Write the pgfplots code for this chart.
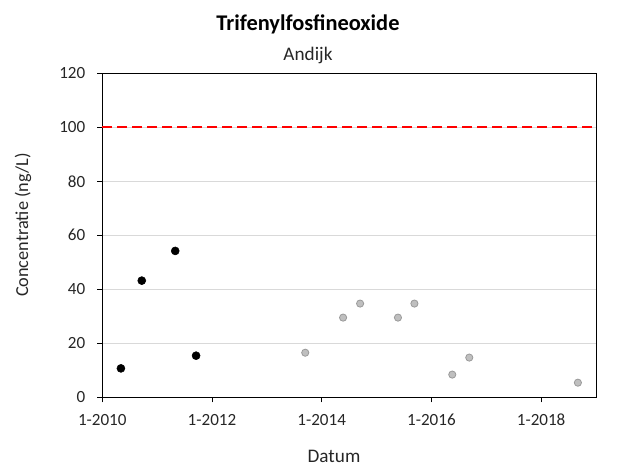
\documentclass[border=0pt]{standalone}
\usepackage{fontspec}
\setmainfont{Carlito}
\usepackage{pgfplots}
\pgfplotsset{compat=1.18}
\definecolor{gridgray}{HTML}{D9D9D9}
\definecolor{ptgray}{HTML}{BFBFBF}
\definecolor{ptedge}{HTML}{9A9A9A}
\begin{document}
\begin{tikzpicture}
\useasboundingbox (0,0) rectangle (475.5pt,354.75pt);
\begin{axis}[
  at={(76.7pt,56.8pt)}, anchor=south west,
  scale only axis, width=370.3pt, height=243pt,
  xmin=2010, xmax=2019, ymin=0, ymax=120,
  xtick={2010,2012,2014,2016,2018},
  xticklabels={1-2010,1-2012,1-2014,1-2016,1-2018},
  ytick={0,20,...,120},
  /pgf/number format/assume math mode=true,
  tick label style={font=\fontsize{12.8}{15}\selectfont, text=black!85},
  xticklabel style={yshift=-5.5pt},
  yticklabel style={xshift=-5.5pt},
  xtick pos=bottom, ytick pos=left, tick align=outside,
  major tick length=3.75pt,
  tick style={black, line width=0.6pt},
  axis line style={black, line width=0.75pt},
  ymajorgrids, grid style={gridgray, line width=0.75pt},
  clip=false,
]
\addplot[red, line width=1.5pt, dash pattern=on 7.5pt off 3.75pt, forget plot] coordinates {(2010,100) (2019,100)};
\addplot[only marks, mark=*, mark size=3pt, mark options={fill=black, draw=black}] coordinates {
(2010.34,10.7) (2010.72,43.2) (2011.33,54.2) (2011.71,15.4)
};
\addplot[only marks, mark=*, mark size=2.7pt, mark options={fill=ptgray, draw=ptedge, line width=0.6pt}] coordinates {
(2013.70,16.5) (2014.39,29.5) (2014.70,34.7) (2015.39,29.5) (2015.69,34.7)
(2016.38,8.4) (2016.69,14.7) (2018.67,5.4)
};
\end{axis}
\node[anchor=base, font=\fontsize{16.8}{19}\selectfont\bfseries] at (231pt,331.5pt) {Trifenylfosfineoxide};
\node[anchor=base, font=\fontsize{14.4}{16}\selectfont, text=black!85] at (231pt,309pt) {Andijk};
\node[anchor=base, font=\fontsize{14.4}{16}\selectfont, text=black!85] at (250.5pt,7.5pt) {Datum};
\node[rotate=90, anchor=center, font=\fontsize{13.7}{16}\selectfont, text=black!85] at (17.25pt,186pt) {Concentratie (ng/L)};
\end{tikzpicture}
\end{document}
